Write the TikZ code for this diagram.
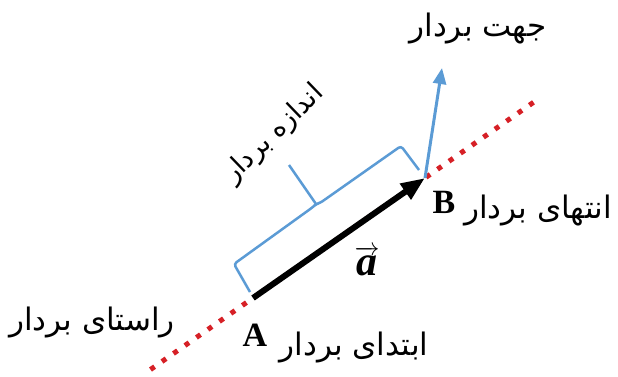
\documentclass[tikz,border=0pt]{standalone}
\usepackage{amsmath}
\usepackage{fontspec}
\usetikzlibrary{arrows.meta,calc}
\TeXXeTstate=1
\newfontfamily\arabicfont[Script=Arabic]{DejaVu Sans}
\newfontfamily\tnr{Liberation Serif}
\definecolor{dotred}{RGB}{214,32,38}
\definecolor{offblue}{RGB}{91,155,213}
\tikzset{
  arab/.style={inner sep=0pt, font=\arabicfont\fontsize{31}{36}\selectfont},
  ptlbl/.style={inner sep=0pt, font=\tnr\bfseries\fontsize{34}{38}\selectfont},
  carrier/.style={draw=dotred, line width=5pt, dash pattern=on 5pt off 9pt},
  vecarrow/.style={draw=black, line width=6pt, -{Triangle[length=24pt,width=18pt]}},
  bluearrow/.style={draw=offblue, line width=3pt, -{Triangle[length=16pt,width=13pt]}},
  brace/.style={draw=offblue, line width=2.5pt, rounded corners=3pt}
}
\begin{document}
\begin{tikzpicture}[x=1pt,y=-1pt]
\useasboundingbox (0,0) rectangle (618,376);
\coordinate (A) at (253,298);
\coordinate (B) at (425,178);
\coordinate (L1) at ($(A)!-0.596!(B)$);
\coordinate (L2) at ($(A)!1.647!(B)$);
\coordinate (D) at (442,68);
% carrier line
\draw[carrier] (L1) -- (L2);
% direction arrow
\draw[bluearrow] (B) -- (D);
% vector
\draw[vecarrow] (A) -- (B);
% brace
\coordinate (b1) at (250,292);
\coordinate (b2) at (234,264);
\coordinate (bm) at (316,204);
\coordinate (bt) at (289,165);
\coordinate (b3) at (401,146);
\coordinate (b4) at (419,170);
\draw[brace] (b1) -- (b2) -- ($(bm)+(-3,3)$) -- (bm) -- ($(bm)+(4,-1)$) -- (b3) -- (b4);
\draw[offblue, line width=2.5pt] (bm) -- (bt);
% labels
\node[arab] (dirlbl) at (478,29) {\beginR جهت بردار\endR};
\node[arab, rotate=44, font=\arabicfont\fontsize{27}{32}\selectfont] (lenlbl) at (274,134) {\beginR اندازه بردار\endR};
\node[ptlbl] (Blbl) at (444,202) {B};
\node[arab] (endlbl) at (538,210) {\beginR انتهای بردار\endR};
\node[ptlbl] (Albl) at (255,335) {A};
\node[arab] (startlbl) at (354,347) {\beginR ابتدای بردار\endR};
\node[arab] (linelbl) at (92,322) {\beginR راستای بردار\endR};
\node[inner sep=0pt, font=\fontsize{42}{46}\selectfont] (avec) at (367,261) {$\overrightarrow{\mbox{\tnr\bfseries\itshape a}}$};
\end{tikzpicture}
\end{document}
